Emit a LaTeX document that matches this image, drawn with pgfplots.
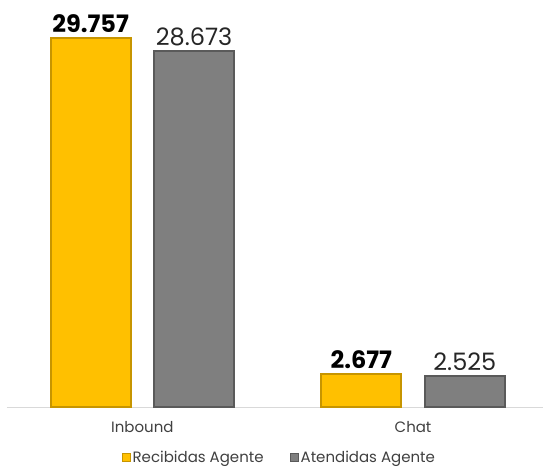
\documentclass[border=0pt]{standalone}
\usepackage{pgfplots}
\pgfplotsset{compat=1.18}
\usepackage{fontspec}
\setmainfont{Poppins}
\definecolor{gold}{HTML}{FFC000}
\definecolor{golddark}{HTML}{C79500}
\definecolor{gris}{HTML}{7F7F7F}
\definecolor{grisdark}{HTML}{5A5A5A}
\definecolor{txt}{HTML}{404040}
\begin{document}
\begin{tikzpicture}[x=1pt,y=1pt]
\path[use as bounding box] (0,0) rectangle (543,468);
\begin{axis}[
  at={(7pt,61pt)}, anchor=south west,
  scale only axis, width=536pt, height=369pt,
  ybar=23.5pt, bar width=80pt,
  xmin=-0.5, xmax=1.48, ymin=0, ymax=29757,
  clip=false,
  axis y line=none,
  axis x line*=bottom,
  x axis line style={draw=black!15, line width=0.8pt, -},
  xtick={0,1}, xticklabels={Inbound,Chat},
  major tick length=0pt,
  xticklabel style={font=\fontsize{15}{17}\selectfont, text=txt, yshift=-11pt},
  /pgf/number format/assume math mode=true,
  legend columns=2,
  legend style={draw=none, at={(0.508,-0.138)}, anchor=center,
    font=\fontsize{15}{17}\selectfont, text=txt, inner sep=0pt,
    /tikz/every even column/.append style={column sep=24pt}},
  legend image code/.code={\draw[#1,line width=1pt] (0pt,-4pt) rectangle (8pt,4pt);},
]
\addplot[fill=gold, draw=golddark, line width=2pt,
  nodes near coords={\pgfmathprintnumber[1000 sep={.}]{\pgfplotspointmeta}},
  every node near coord/.append style={font=\fontsize{24}{26}\selectfont\bfseries, text=black, yshift=1pt}]
  coordinates {(0,29757) (1,2677)};
\addplot[fill=gris, draw=grisdark, line width=2pt,
  nodes near coords={\pgfmathprintnumber[1000 sep={.}]{\pgfplotspointmeta}},
  every node near coord/.append style={font=\fontsize{24}{26}\selectfont, text=black!85, yshift=1pt}]
  coordinates {(0,28673) (1,2525)};
\legend{Recibidas Agente, Atendidas Agente}
\end{axis}
\end{tikzpicture}
\end{document}
